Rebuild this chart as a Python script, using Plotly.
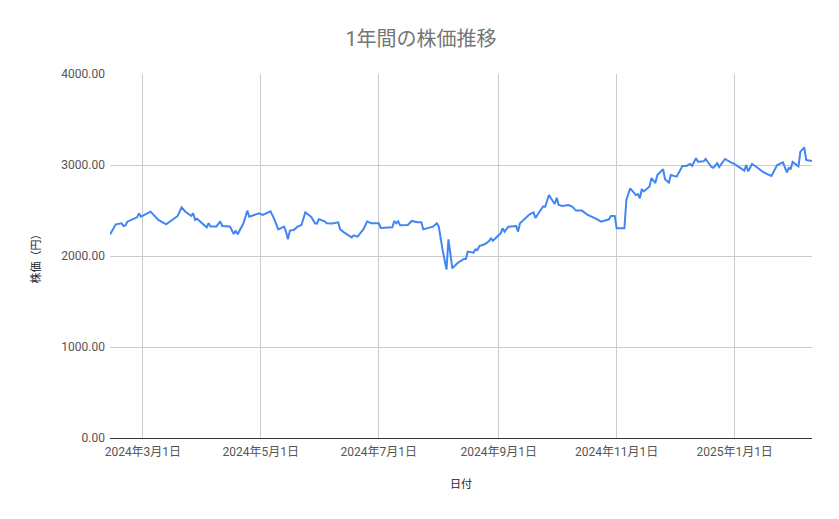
import plotly.graph_objects as go

# 日付と終値（チャートから読み取り）
dates = [
    '2024-02-13', '2024-02-16', '2024-02-19', '2024-02-20', '2024-02-21', '2024-02-22',
    '2024-02-27', '2024-02-28', '2024-02-29', '2024-03-05', '2024-03-09', '2024-03-13',
    '2024-03-19', '2024-03-21', '2024-03-23', '2024-03-26', '2024-03-27', '2024-03-28',
    '2024-03-29', '2024-04-01', '2024-04-03', '2024-04-04', '2024-04-05', '2024-04-08',
    '2024-04-10', '2024-04-11', '2024-04-15', '2024-04-17', '2024-04-18', '2024-04-19',
    '2024-04-22', '2024-04-24', '2024-04-25', '2024-04-30', '2024-05-02', '2024-05-06',
    '2024-05-08', '2024-05-10', '2024-05-13', '2024-05-14', '2024-05-15', '2024-05-16',
    '2024-05-18', '2024-05-20', '2024-05-22', '2024-05-24', '2024-05-27', '2024-05-29',
    '2024-05-30', '2024-05-31', '2024-06-03', '2024-06-04', '2024-06-07', '2024-06-10',
    '2024-06-11', '2024-06-13', '2024-06-17', '2024-06-18', '2024-06-20', '2024-06-23',
    '2024-06-25', '2024-06-27', '2024-07-01', '2024-07-02', '2024-07-05', '2024-07-08',
    '2024-07-09', '2024-07-10', '2024-07-11', '2024-07-12', '2024-07-16', '2024-07-18',
    '2024-07-21', '2024-07-23', '2024-07-24', '2024-07-29', '2024-07-31', '2024-08-01',
    '2024-08-03', '2024-08-05', '2024-08-06', '2024-08-08', '2024-08-11', '2024-08-14',
    '2024-08-15', '2024-08-16', '2024-08-19', '2024-08-20', '2024-08-21', '2024-08-22',
    '2024-08-25', '2024-08-27', '2024-08-28', '2024-08-29', '2024-09-02', '2024-09-03',
    '2024-09-04', '2024-09-06', '2024-09-10', '2024-09-11', '2024-09-12', '2024-09-14',
    '2024-09-17', '2024-09-19', '2024-09-20', '2024-09-22', '2024-09-24', '2024-09-25',
    '2024-09-27', '2024-09-28', '2024-09-30', '2024-10-01', '2024-10-02', '2024-10-04',
    '2024-10-07', '2024-10-09', '2024-10-11', '2024-10-14', '2024-10-17', '2024-10-21',
    '2024-10-24', '2024-10-28', '2024-10-29', '2024-10-31', '2024-11-01', '2024-11-05',
    '2024-11-06', '2024-11-08', '2024-11-11', '2024-11-12', '2024-11-13', '2024-11-14',
    '2024-11-15', '2024-11-18', '2024-11-19', '2024-11-21', '2024-11-22', '2024-11-25',
    '2024-11-26', '2024-11-28', '2024-11-29', '2024-12-02', '2024-12-05', '2024-12-07',
    '2024-12-09', '2024-12-10', '2024-12-12', '2024-12-13', '2024-12-16', '2024-12-17',
    '2024-12-20', '2024-12-21', '2024-12-23', '2024-12-24', '2024-12-27', '2024-12-30',
    '2025-01-01', '2025-01-06', '2025-01-07', '2025-01-08', '2025-01-10', '2025-01-13',
    '2025-01-16', '2025-01-20', '2025-01-23', '2025-01-26', '2025-01-28', '2025-01-29',
    '2025-01-30', '2025-01-31', '2025-02-03', '2025-02-04', '2025-02-06', '2025-02-07',
    '2025-02-10',
]
prices = [
    2235, 2348, 2359, 2330, 2337, 2377,
    2425, 2469, 2432, 2487, 2396, 2348,
    2440, 2535, 2487, 2440, 2469, 2396,
    2410, 2359, 2315, 2360, 2325, 2325,
    2381, 2330, 2325, 2242, 2279, 2238,
    2359, 2498, 2432, 2469, 2451, 2490,
    2403, 2293, 2322, 2268, 2184, 2279,
    2286, 2322, 2341, 2479, 2432, 2359,
    2355, 2403, 2381, 2360, 2358, 2370,
    2293, 2260, 2205, 2227, 2213, 2293,
    2381, 2359, 2359, 2308, 2315, 2315,
    2385, 2359, 2381, 2337, 2340, 2385,
    2370, 2370, 2293, 2322, 2359, 2322,
    2066, 1850, 2184, 1865, 1927, 1967,
    1967, 2048, 2037, 2073, 2066, 2110,
    2132, 2165, 2194, 2168, 2249, 2304,
    2268, 2322, 2330, 2268, 2359, 2396,
    2458, 2479, 2417, 2484, 2546, 2540,
    2670, 2634, 2571, 2641, 2560, 2549,
    2560, 2543, 2499, 2499, 2451, 2414,
    2377, 2403, 2440, 2440, 2304, 2304,
    2615, 2744, 2670, 2680, 2634, 2736,
    2710, 2765, 2857, 2802, 2890, 2953,
    2843, 2805, 2890, 2872, 2989, 2990,
    3011, 2990, 3074, 3037, 3040, 3066,
    2978, 2970, 3018, 2978, 3066, 3029,
    3010, 2938, 3000, 2930, 3011, 2967,
    2919, 2879, 3000, 3029, 2919, 2967,
    2960, 3033, 2985, 3147, 3194, 3055,
    3044,
]

# 軸の目盛り
x_tick_dates = ['2024-03-01', '2024-05-01', '2024-07-01', '2024-09-01', '2024-11-01', '2025-01-01']
x_tick_labels = ['2024年3月1日', '2024年5月1日', '2024年7月1日', '2024年9月1日', '2024年11月1日', '2025年1月1日']
y_ticks = [0, 1000, 2000, 3000, 4000]

fig = go.Figure()
fig.add_trace(go.Scatter(
    x=dates, y=prices, mode='lines',
    line=dict(color='#4285F4', width=2),
    showlegend=False,
))

font_family = 'Roboto, "Noto Sans CJK JP", sans-serif'

# ページの余白(8px)の分だけ小さくする
fig.update_layout(
    width=831, height=511,
    margin=dict(l=102, r=27, t=66, b=81),
    paper_bgcolor='white', plot_bgcolor='white',
    font=dict(family=font_family, size=12, color='#444444'),
    title=dict(text='1年間の株価推移', x=0.497, xanchor='center', y=0.94, yanchor='middle',
               font=dict(size=20, color='#757575', family=font_family)),
)

fig.update_xaxes(
    type='date',
    range=[dates[0], dates[-1]],
    tickvals=x_tick_dates, ticktext=x_tick_labels,
    showgrid=True, gridcolor='#cccccc', gridwidth=1,
    showline=True, linecolor='#333333', linewidth=1,
    ticks='', tickfont=dict(size=12, color='#555555'), ticklabelstandoff=3,
    title=dict(text='日付', font=dict(size=11, color='#222222'), standoff=21),
    zeroline=False,
)

fig.update_yaxes(
    range=[0, 4000],
    tickvals=y_ticks, tickformat='.2f',
    showgrid=True, gridcolor='#cccccc', gridwidth=1,
    ticks='', tickfont=dict(size=12, color='#555555'), ticklabelstandoff=4,
    title=dict(text='株価（円）', font=dict(size=11, color='#222222'), standoff=18),
    zeroline=False,
)

fig.write_html('out.html')
